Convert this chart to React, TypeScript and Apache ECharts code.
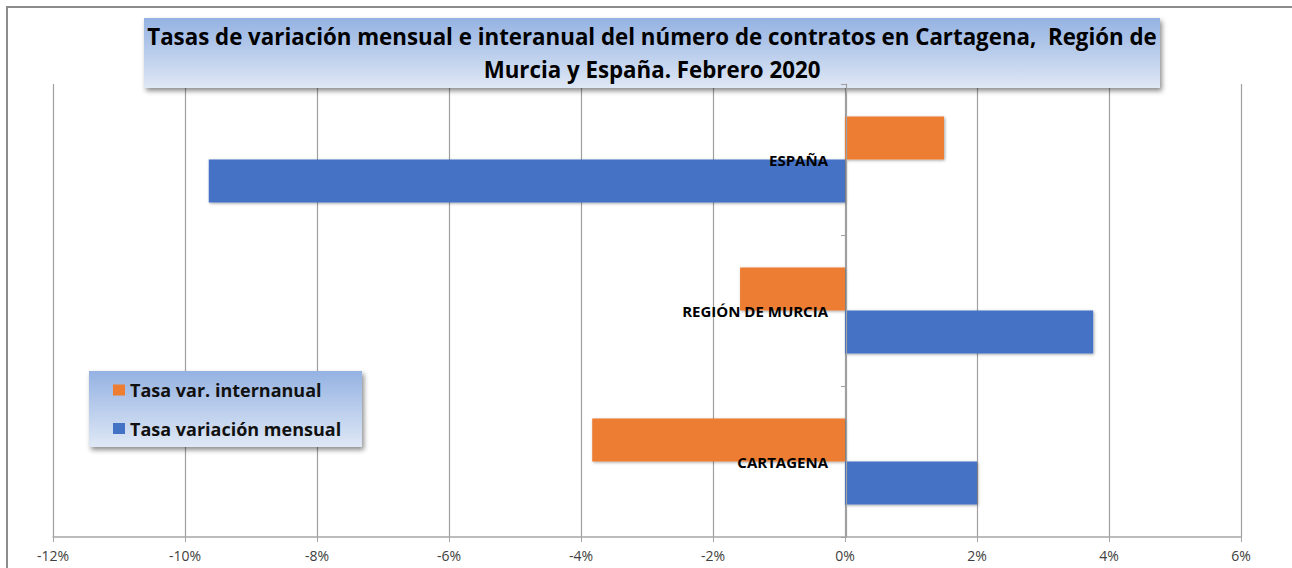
import React, { useEffect, useRef } from "react";
import * as echarts from "echarts";

const categories = ["ESPAÑA", "REGIÓN DE MURCIA", "CARTAGENA"];
const interanual = [1.5, -1.59, -3.83];
const mensual = [-9.64, 3.76, 2.0];
const seriesNames = ["Tasa var. internanual", "Tasa variación mensual"];
const titleText =
  "Tasas de variación mensual e interanual del número de contratos en Cartagena,  Región de\nMurcia y España. Febrero 2020";

const FONT = "'Open Sans', 'Noto Sans', sans-serif";

const grad = () =>
  new echarts.graphic.LinearGradient(0, 0, 0, 1, [
    { offset: 0, color: "#94b2e2" },
    { offset: 1, color: "#dfe8f5" },
  ]);

export default function App() {
  const ref = useRef<HTMLDivElement>(null);
  useEffect(() => {
    const chart = echarts.init(ref.current!, null, { renderer: "svg" });
    chart.setOption({
      animation: false,
      backgroundColor: "#ffffff",
      grid: {
        left: 53,
        right: 51,
        top: 84,
        bottom: 31,
        containLabel: false,
        outerBoundsMode: "none",
      },
      xAxis: {
        type: "value",
        min: -12,
        max: 6,
        interval: 2,
        axisLine: { show: true, lineStyle: { color: "#a6a6a6", width: 1.5 } },
        axisTick: { show: true, length: 5, lineStyle: { color: "#a6a6a6" } },
        splitLine: { show: true, lineStyle: { color: "#a0a0a0", width: 1.2 } },
        axisLabel: {
          formatter: "{value}%",
          color: "#404040",
          fontFamily: FONT,
          fontSize: 14,
          margin: 11,
        },
      },
      yAxis: {
        type: "category",
        data: categories,
        inverse: true,
        position: "left",
        offset: -793,
        z: 10,
        axisLine: { show: true, onZero: false, lineStyle: { color: "#a0a0a0", width: 1.2 } },
        axisTick: { show: true, length: 5, lineStyle: { color: "#a0a0a0" } },
        axisLabel: {
          color: "#000000",
          fontWeight: "bold",
          fontFamily: FONT,
          fontSize: 15,
          margin: 18,
        },
        splitLine: { show: false },
      },
      legend: {
        orient: "vertical",
        left: 113,
        top: 381,
        padding: 0,
        itemWidth: 12,
        itemHeight: 11,
        itemGap: 20.5,
        icon: "rect",
        data: seriesNames,
        textStyle: {
          fontFamily: FONT,
          fontWeight: "bold",
          fontSize: 18,
          lineHeight: 18,
          color: "#111111",
        },
        z: 10,
      },
      graphic: [
        {
          type: "rect",
          z: -1,
          silent: true,
          shape: { x: 7, y: 7, width: 1300, height: 600 },
          style: { fill: "none", stroke: "#8c8c8c", lineWidth: 2 },
        },
        {
          type: "rect",
          z: 5,
          silent: true,
          shape: { x: 144, y: 18, width: 1016, height: 70 },
          style: {
            fill: grad(),
            shadowBlur: 5,
            shadowColor: "rgba(0,0,0,0.45)",
            shadowOffsetX: 2,
            shadowOffsetY: 3,
          },
        },
        {
          type: "text",
          z: 6,
          silent: true,
          x: 652,
          y: 53,
          style: {
            text: titleText,
            align: "center",
            verticalAlign: "middle",
            fontFamily: FONT,
            fontWeight: "bold",
            fontSize: 22.3,
            lineHeight: 33,
            fill: "#000000",
          },
        },
        {
          type: "rect",
          z: 5,
          silent: true,
          shape: { x: 89, y: 371, width: 273, height: 76 },
          style: {
            fill: grad(),
            shadowBlur: 5,
            shadowColor: "rgba(0,0,0,0.45)",
            shadowOffsetX: 2,
            shadowOffsetY: 3,
          },
        },
      ],
      series: [
        {
          name: seriesNames[0],
          type: "bar",
          data: interanual,
          barWidth: 43,
          barGap: "0%",
          itemStyle: {
            color: "#ED7D31",
            shadowBlur: 3,
            shadowColor: "rgba(0,0,0,0.35)",
            shadowOffsetX: 1,
            shadowOffsetY: 1,
          },
        },
        {
          name: seriesNames[1],
          type: "bar",
          data: mensual,
          barWidth: 43,
          barGap: "0%",
          itemStyle: {
            color: "#4472C4",
            shadowBlur: 3,
            shadowColor: "rgba(0,0,0,0.35)",
            shadowOffsetX: 1,
            shadowOffsetY: 1,
          },
        },
      ],
    });
    return () => chart.dispose();
  }, []);
  return (
    <div
      ref={ref}
      style={{ position: "fixed", left: 0, top: 0, width: 1292, height: 568 }}
    />
  );
}
